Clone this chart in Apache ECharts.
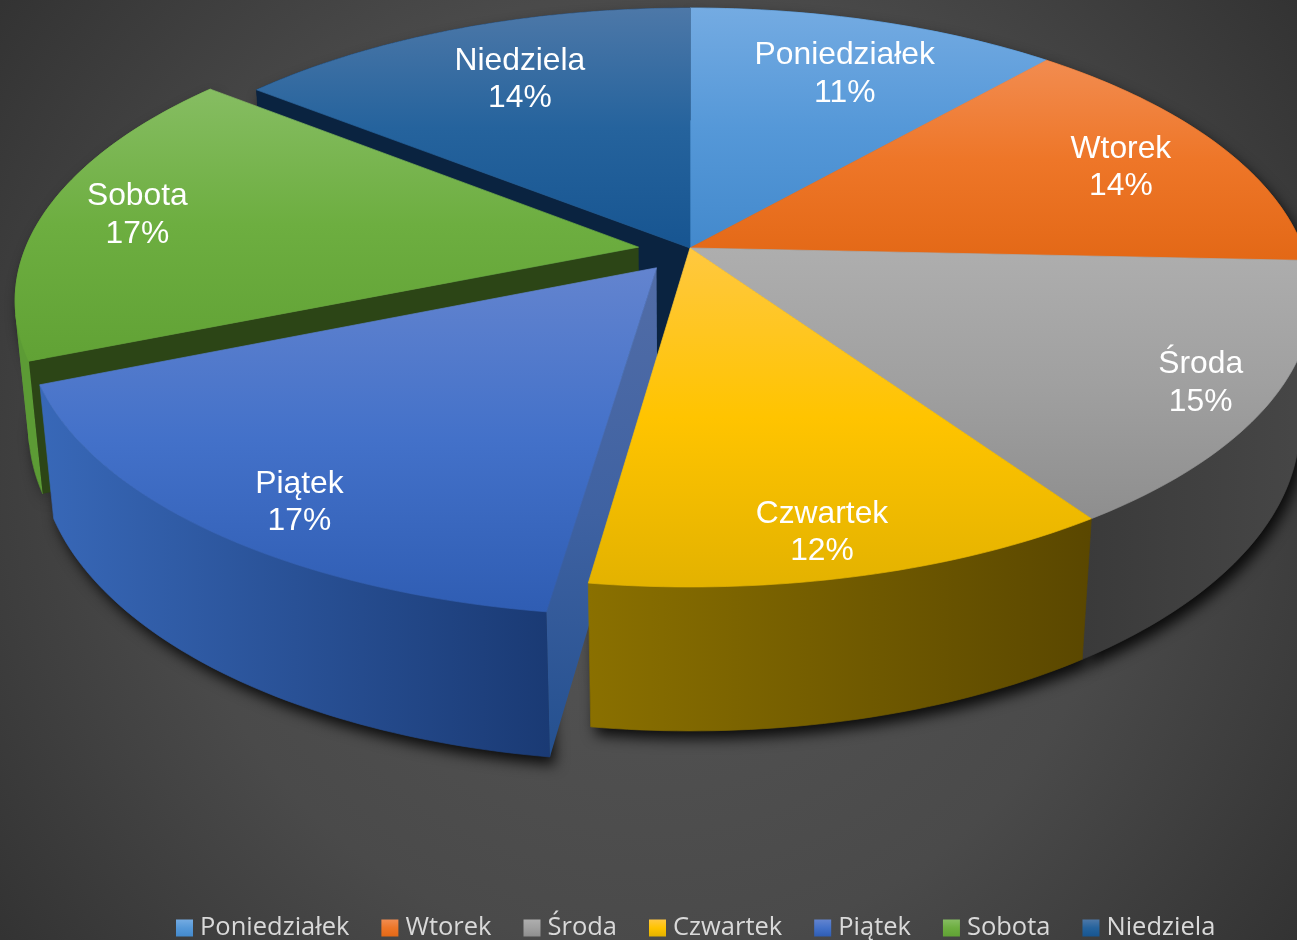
<!DOCTYPE html>
<html><head><meta charset="utf-8">
<style>html,body{margin:0;padding:0;background:#444;overflow:hidden}#c{width:1297px;height:940px}</style>
<script src="https://cdn.jsdelivr.net/npm/echarts@6/dist/echarts.min.js"></script>
</head><body><div id="c"></div>
<script>
const categories = ['Poniedziałek','Wtorek','Środa','Czwartek','Piątek','Sobota','Niedziela'];
const values = [11.4,14.3,14.8,11.7,16.6,16.9,14.3];
const tickLabels = ['11%','14%','15%','12%','17%','17%','14%'];
const explode = [0,0,0,0,0.088,0.084,0];
const explodeTurn = [0,0,0,0,0,-6,0];
const drawOrder = [0,1,5,6,4,3,2];
const labelNudge = [[-6,13],[-22,-1],[21,0],[-6,4],[13,6],[3,-9],[30,12]];
const topStops = [
 ['#74abe2','#5598d8','#4389cc'],['#f28c50','#ee7628','#e36816'],['#aeaeae','#a0a0a0','#8e8e8e'],
 ['#ffc840','#ffc400','#e3b200'],['#6384cf','#4371c9','#2f5db3'],['#86bd62','#6dae40','#61a235'],['#4d78a8','#25639d','#175591']];
const outerWall = [
 ['#2f6ea8','#2f6ea8'],['#8a4413','#8a4413'],['#3a3a3a','#474747'],
 ['#8a7000','#5a4700'],['#3868b8','#1a3a74'],['#5c9b35','#5c9b35'],['#0a2340','#0a2340']];
const sideWall = ['#0a2340','#0a2340','#3a3a3a','#5a4700',null,'#2c4516','#0a2340'];

// perspective camera of the 3D pie
const cam = {cx:690, cy:248, rx:613, a:281, k:0.171, b:129, m:0.02};
function project(u,v,z){
  const w = 1 - cam.k*v + cam.m*z;
  return [cam.cx + cam.rx*u/w, cam.cy + (cam.a*v + cam.b*z)/w];
}
const total = values.reduce((s,x)=>s+x,0);
function sliceAngles(i){
  let s=0; for(let j=0;j<i;j++) s+=values[j];
  return [s/total*2*Math.PI,(s+values[i])/total*2*Math.PI];
}
function grad(stops,horizontal){
  return {type:'linear',x:0,y:0,x2:horizontal?1:0,y2:horizontal?0:1,
    colorStops:stops.map((c,i)=>({offset:i/(stops.length-1),color:c}))};
}
function area(p){let s=0;for(let i=0;i<p.length;i++){const q=p[(i+1)%p.length];s+=p[i][0]*q[1]-q[0]*p[i][1];}return s;}
function renderSlice(i){
  return function(params,api){
    const [a0,a1]=sliceAngles(i), mid=(a0+a1)/2, e=explode[i];
    const dir=mid+explodeTurn[i]*Math.PI/180;
    const ou=Math.sin(dir)*e, ov=-Math.cos(dir)*e;
    const pt=(ang,r,z)=>project(ou+Math.sin(ang)*r, ov-Math.cos(ang)*r, z);
    const n=Math.max(8,Math.ceil((a1-a0)*180/Math.PI));
    const arcTop=[],arcBot=[];
    for(let t=0;t<=n;t++){const a=a0+(a1-a0)*t/n; arcTop.push(pt(a,1,0)); arcBot.push(pt(a,1,1));}
    const tipT=pt(0,0,0), tipB=pt(0,0,1), base=drawOrder[i]*10+1;
    const ch=[];
    const poly=(points,fill,z2,extra)=>ch.push({type:'polygon',shape:{points},z2,
      style:Object.assign({fill,stroke:null},extra||{}),silent:true});
    const wallPts=arcTop.concat(arcBot.slice().reverse());
    // cast shadow on the floor
    poly(wallPts,'#1a1a1a',0,{shadowBlur:14,shadowColor:'rgba(0,0,0,0.85)',shadowOffsetX:5,shadowOffsetY:8});
    // outer wall: one simple polygon per run of strips facing the same way, one shared gradient
    const xs=wallPts.map(p=>p[0]);
    const wg={type:'linear',global:true,x:Math.min.apply(null,xs),y:0,x2:Math.max.apply(null,xs),y2:0,
      colorStops:[{offset:0,color:outerWall[i][0]},{offset:1,color:outerWall[i][1]}]};
    let from=0;
    const facing=t=>area([arcTop[t],arcTop[t+1],arcBot[t+1],arcBot[t]])>0;
    for(let t=1;t<=n;t++){
      if(t===n||facing(t)!==facing(from)){
        poly(arcTop.slice(from,t+1).concat(arcBot.slice(from,t+1).reverse()),wg,base,{stroke:wg,lineWidth:0.7});
        from=t;
      }
    }
    const side=sideWall[i]||grad(['#526da7','#3f62a2','#24508f']);
    const startWall=[tipT,arcTop[0],arcBot[0],tipB], endWall=[tipT,arcTop[n],arcBot[n],tipB];
    if(area(startWall)<0) poly(startWall,side,base+1);
    if(area(endWall)>0) poly(endWall,side,base+1);
    const topFill=grad(topStops[i]);
    poly([tipT].concat(arcTop),topFill,base+2,{stroke:topFill,lineWidth:0.7});
    const lp=pt(mid,labelRadius,0);
    ch.push({type:'text',z2:200,silent:true,x:lp[0]+labelNudge[i][0],y:lp[1]+labelShift+labelNudge[i][1],style:{
      text:categories[i]+'\n'+tickLabels[i],fill:'#fff',align:'center',verticalAlign:'middle',
      font:'31.8px "Liberation Sans"',lineHeight:37.5}});
    return {type:'group',children:ch};
  };
}
const labelRadius=0.85, labelShift=10;
const chart=echarts.init(document.getElementById('c'),null,{renderer:'canvas'});
chart.setOption({
  animation:false,
  backgroundColor:{type:'radial',x:0.5,y:0.5,r:0.85,colorStops:[{offset:0,color:'#565656'},{offset:0.6,color:'#4a4a4a'},{offset:1,color:'#333333'}]},
  legend:{left:171,top:910,itemWidth:17,itemHeight:17,itemGap:32,icon:'rect',
    data:categories,
    textStyle:{color:'#d9d9d9',fontFamily:'Open Sans',fontSize:25.5,padding:[0,0,0,2]}},
  series:categories.map((name,i)=>({
    type:'custom',name,coordinateSystem:'none',
    itemStyle:{color:grad(topStops[i])},
    renderItem:renderSlice(i),data:[[values[i]]]
  }))
});
</script></body></html>
